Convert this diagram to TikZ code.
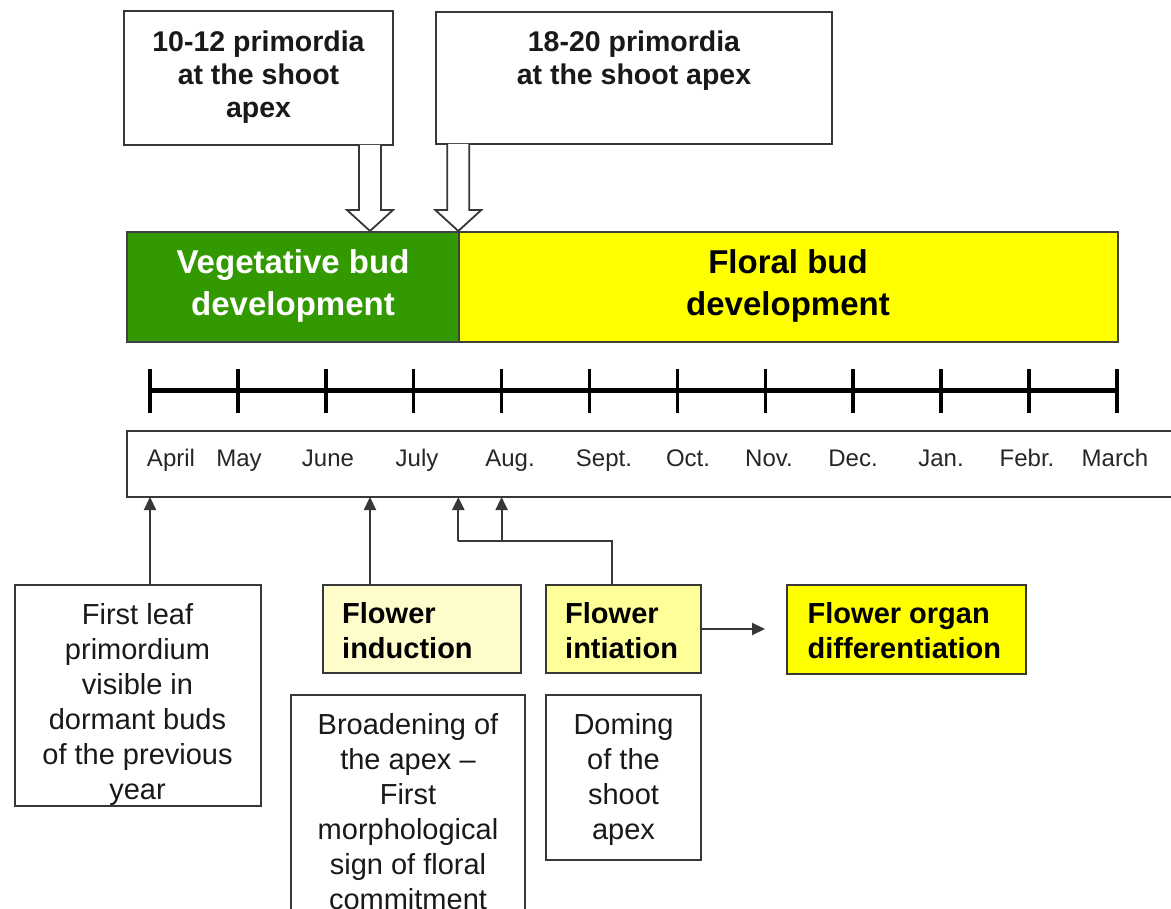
\documentclass[tikz,border=0pt]{standalone}
\usepackage{fontspec}
\setmainfont{Liberation Sans}
\usetikzlibrary{calc,arrows.meta}
\definecolor{vegg}{RGB}{51,153,0}
\definecolor{ylw}{RGB}{255,255,0}
\definecolor{pale}{RGB}{255,252,204}
\definecolor{lite}{RGB}{255,255,153}
\definecolor{edge}{RGB}{55,55,55}
\newcommand\fs{\rule{0pt}{28pt}}
\begin{document}
\begin{tikzpicture}[x=1pt,y=-1pt,
  box/.style={draw=edge,line width=2pt,inner sep=0pt,outer sep=0pt},
  bar/.style={draw=black!75,line width=1.5pt,inner sep=0pt,outer sep=0pt},
  txt/.style={anchor=north,inner sep=0pt,align=center,text=black!90},
  ltxt/.style={anchor=north west,inner sep=0pt,align=left,text=black},
  reg/.style={font=\fontsize{29}{35}\selectfont},
  bld/.style={font=\bfseries\fontsize{29}{35}\selectfont},
  month/.style={anchor=base,inner sep=0pt,font=\fontsize{24}{28}\selectfont,text=black!85},
  lnk/.style={draw=edge,line width=2.2pt},
  conn/.style={lnk,-{Triangle[length=13pt,width=12pt]}},
  hollow/.style={draw=edge,fill=white,line width=1.8pt,line join=miter}
]
\useasboundingbox (0,0) rectangle (1171,909);
\clip (0,0) rectangle (1171,909);

% top boxes
\node[box,minimum width=269pt,minimum height=133.5pt] (tl) at (258.5,78.25) {};
\node[txt,font=\bfseries\fontsize{28.5}{33}\selectfont] (tlt) at (258.5,23.7) {\fs 10-12 primordia\\at the shoot\\apex};
\node[box,minimum width=396pt,minimum height=132pt] (tr) at (634,78) {};
\node[txt,font=\bfseries\fontsize{28.5}{33}\selectfont] (trt) at (634,23.7) {\fs 18-20 primordia\\at the shoot apex};

% development bar
\node[bar,fill=vegg,minimum width=332pt,minimum height=110pt] (veg) at (293,287) {};
\node[bar,fill=ylw,minimum width=659pt,minimum height=110pt] (flo) at (788.5,287) {};
\node[txt,text=white,font=\bfseries\fontsize{33}{42}\selectfont] (vegt) at (293,245) {\fs Vegetative bud\\development};
\node[txt,text=black,font=\bfseries\fontsize{33}{42}\selectfont] (flot) at (788,245) {\fs Floral bud\\development};

% hollow arrows
\coordinate (a1) at (370,231);
\coordinate (a2) at (458.3,231);
\coordinate (s1) at (a1 |- tl.south);
\coordinate (s2) at (a2 |- tr.south);
\draw[hollow] ($(s1)+(-11,0)$) -- ($(a1)+(-11,-21)$) -- ($(a1)+(-23,-21)$) -- (a1)
  -- ($(a1)+(23,-21)$) -- ($(a1)+(11,-21)$) -- ($(s1)+(11,0)$);
\draw[hollow] ($(s2)+(-11,0)$) -- ($(a2)+(-11,-21)$) -- ($(a2)+(-23,-21)$) -- (a2)
  -- ($(a2)+(23,-21)$) -- ($(a2)+(11,-21)$) -- ($(s2)+(11,0)$);

% timeline
\foreach \i in {1,...,12} {
  \coordinate (t\i) at ({150+(\i-1)*87.9},391);
}
\draw[black,line width=5pt] (t1) -- (t12);
\foreach \i in {1,...,12} {
  \draw[black,line width=3.5pt] ($(t\i)+(0,-22)$) -- ($(t\i)+(0,22)$);
}

% month box
\node[box,minimum width=1058pt,minimum height=66pt] (mb) at (656,464) {};
\node[month] (m1) at (171,466) {April};
\node[month] (m2) at (239,466) {May};
\node[month] (m3) at (328,466) {June};
\node[month] (m4) at (417,466) {July};
\node[month] (m5) at (510,466) {Aug.};
\node[month] (m6) at (604,466) {Sept.};
\node[month] (m7) at (688,466) {Oct.};
\node[month] (m8) at (769,466) {Nov.};
\node[month] (m9) at (853,466) {Dec.};
\node[month] (m10) at (941,466) {Jan.};
\node[month] (m11) at (1027,466) {Febr.};
\node[month] (m12) at (1115,466) {March};

% lower boxes
\node[box,minimum width=246pt,minimum height=220.5pt] (fl) at (137.5,695.25) {};
\node[txt,reg] (flt) at (137.5,596) {\fs First leaf\\primordium\\visible in\\dormant buds\\of the previous\\year};

\node[box,fill=pale,minimum width=198pt,minimum height=88pt] (ind) at (422,629) {};
\node[ltxt,bld] (indt) at (342,595) {\fs Flower\\induction};

\node[box,fill=lite,minimum width=155pt,minimum height=88pt] (ini) at (623.5,629) {};
\node[ltxt,bld] (init) at (565,595) {\fs Flower\\intiation};

\node[box,fill=ylw,minimum width=239pt,minimum height=89pt] (org) at (906.5,629.5) {};
\node[ltxt,bld] (orgt) at (807.5,595) {\fs Flower organ\\differentiation};

\node[box,minimum width=234pt,minimum height=265pt] (br) at (408,827.5) {};
\node[txt,reg] (brt) at (408,706) {\fs Broadening of\\the apex --\\First\\morphological\\sign of floral\\commitment};

\node[box,minimum width=155pt,minimum height=165pt] (do) at (623.5,777.5) {};
\node[txt,reg] (dot) at (623.5,706) {\fs Doming\\of the\\shoot\\apex};

% connectors
\draw[conn] (fl.north -| t1) -- (mb.south -| t1);
\draw[conn] (ind.north -| a1) -- (mb.south -| a1);
\coordinate (j) at (612,541);
\draw[lnk] (ini.north -| j) -- (j) -- (j -| a2);
\draw[conn] (j -| a2) -- (mb.south -| a2);
\draw[conn] (j -| t5) -- (mb.south -| t5);
\coordinate (e) at (765,629);
\draw[conn] (ini.east) -- (e);
\end{tikzpicture}
\end{document}
